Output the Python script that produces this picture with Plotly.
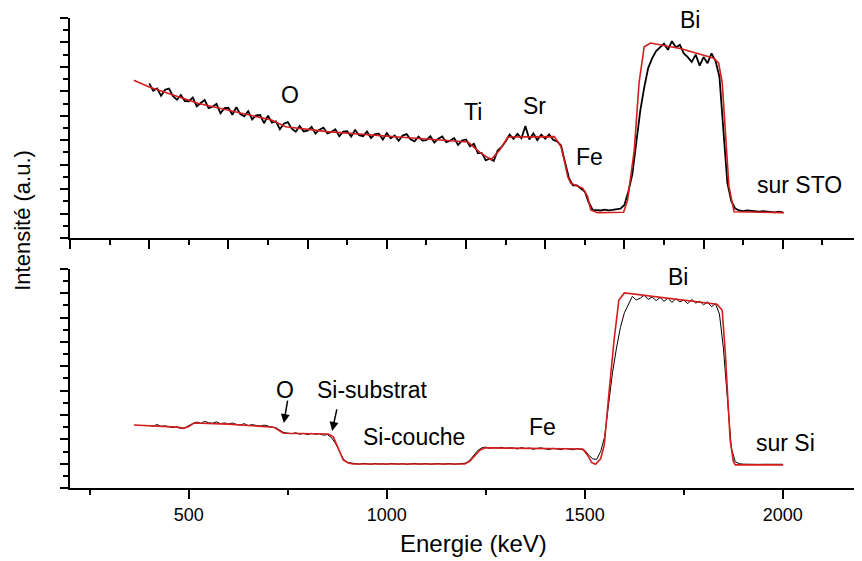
import plotly.graph_objects as go

# energy channels of the measured spectra (keV), 10 keV steps
energie = list(range(400, 2001, 10))

# measured spectrum, film on STO (top panel)
mesure_sto = [
    126.5, 120.4, 122.3, 116.3, 121.2, 122.2, 116.1, 113.1, 117, 112,
    111.9, 114.9, 107.8, 110.6, 112.9, 106.2, 107.4, 109.7, 102, 106.2,
    106.5, 100.8, 107, 101.3, 99.6, 103.8, 97, 100.3, 100.6, 93.9,
    100.1, 94.4, 95.5, 89, 93.5, 94.8, 89.4, 87, 91.6, 87.2,
    87.8, 90.9, 85.5, 88.6, 90.3, 85.5, 86.8, 89, 83.3, 87,
    87.3, 83, 88.3, 84, 83.3, 87.1, 81.8, 85, 85.3, 80.5,
    85.8, 81.5, 83.8, 79.5, 83.8, 85, 80.8, 79.1, 82.9, 79.7,
    80, 83.3, 78, 81.3, 83, 78.3, 79.5, 81.8, 76.1, 79.8,
    80.6, 75, 77, 69.5, 69.5, 63.5, 65, 63, 71.5, 74.5,
    79, 84.6, 81.1, 85.1, 81.6, 91.6, 80.6, 85.6, 80.1, 84.6,
    81.2, 84.8, 80.4, 79, 75.7, 62, 49, 43, 43, 40.5,
    38, 29, 23, 22.8, 22.5, 23.2, 22.6, 23, 23.4, 24,
    27, 38, 52, 76, 104, 123, 139, 147, 153, 156,
    159, 154, 161, 156, 158, 151, 148, 144, 150, 141,
    148, 143, 151, 145, 132, 88, 45, 30, 24, 22.5,
    22, 22.5, 22, 22, 21.5, 22, 21.5, 21.5, 21, 21.5,
    21,
]

# measured spectrum, film on Si (bottom panel)
mesure_si = [
    51.5, 50.8, 52.2, 50.6, 51.1, 50.3, 49.6, 50.4, 48.8, 49.5,
    51.5, 53, 54.2, 53.1, 54.8, 53.6, 53.2, 54.4, 52.8, 53.5,
    52.6, 53.4, 52.2, 51.8, 52.9, 51.3, 52.1, 51.6, 50.8, 51.7,
    50.6, 50.1, 49.5, 47.2, 45.5, 45.1, 44.6, 45.4, 44.2, 44.9,
    43.8, 44.9, 44.1, 44.6, 43.4, 43.9, 41.5, 37, 30, 24,
    21, 20.4, 20.1, 19.6, 20.3, 19.8, 19.5, 20.2, 19.7, 19.9,
    19.5, 20.2, 19.8, 19.6, 20.1, 19.4, 19.9, 20.3, 19.6, 19.8,
    20.1, 19.5, 19.8, 20.2, 19.6, 19.7, 20.1, 19.5, 19.9, 19.8,
    20.5, 23, 27, 31, 33, 33.6, 32.6, 33.2, 32.9, 33.5,
    32.5, 33.1, 32.8, 32.1, 33.3, 32.4, 32.9, 31.8, 32.6, 33,
    32.2, 31.6, 32.7, 32.3, 31.5, 32.6, 31.9, 31.4, 32.4, 31.8,
    31, 27, 24, 23.5, 30, 42, 68, 95, 115, 132,
    144, 151, 157.5, 154.5, 156, 158.5, 155, 157, 154, 156.5,
    153.5, 156, 152.5, 155.5, 153, 154.5, 151.5, 155, 152, 153.5,
    150.5, 153, 149, 151.5, 143, 115, 70, 33, 21.5, 20,
    19.6, 19.4, 19.5, 19.6, 19.4, 19.5, 19.5, 19.4, 19.5, 19.4,
    19.5,
]

# simulated fit, STO
sim_sto_e = [361, 400, 525, 709, 744, 850, 1029, 1205, 1235, 1263, 1285, 1306,
             1423, 1440, 1448, 1457, 1465, 1495, 1507, 1515, 1532, 1598, 1608,
             1625, 1637, 1650, 1666, 1741, 1826, 1838, 1847, 1855, 1864, 1877, 2003]
sim_sto_y = [129, 123.5, 110, 96.5, 91, 87, 82.6, 78.5, 70, 64, 72, 82.6,
             82.9, 74.7, 63.8, 50, 44.7, 40.6, 33.8, 22.9, 20.7, 21, 31,
             72, 127, 156.5, 159.5, 155, 147, 143, 127, 86, 42, 21.5, 20.7]

# simulated fit, Si
sim_si_e = [361, 399, 470, 487, 500, 513, 600, 714, 727, 739, 852, 865, 878, 890,
            903, 915, 1197, 1210, 1235, 1248, 1495, 1507, 1517, 1527, 1540, 1549,
            1561, 1574, 1586, 1600, 1834, 1847, 1855, 1867, 1875, 1880, 2001]
sim_si_y = [51.8, 51, 50, 49, 50.5, 53.4, 52.5, 50, 47.5, 45, 44.4, 42, 32, 23,
            20.5, 19.7, 19.7, 22, 31, 33, 32, 27, 21, 19.5, 24, 35,
            78, 121.7, 154.5, 160.3, 151, 146, 110, 39.5, 22, 19, 19]

FONT = "Liberation Sans, Arial, sans-serif"
ROUGE = "#d41c1c"

fig = go.Figure()
fig.add_trace(go.Scatter(x=energie, y=mesure_sto, mode="lines",
                         line=dict(color="black", width=1.8), xaxis="x2", yaxis="y2"))
fig.add_trace(go.Scatter(x=sim_sto_e, y=sim_sto_y, mode="lines",
                         line=dict(color=ROUGE, width=1.6), xaxis="x2", yaxis="y2"))
fig.add_trace(go.Scatter(x=energie, y=mesure_si, mode="lines",
                         line=dict(color="black", width=1), xaxis="x", yaxis="y"))
fig.add_trace(go.Scatter(x=sim_si_e, y=sim_si_y, mode="lines",
                         line=dict(color=ROUGE, width=1.6), xaxis="x", yaxis="y"))

axe = dict(showline=True, linewidth=2, linecolor="black", ticks="outside",
           tickwidth=2, tickcolor="black", showgrid=False, zeroline=False)
mineur = dict(ticks="outside", ticklen=5, tickwidth=2, tickcolor="black")

# page body has an 8px margin, so the figure is a bit smaller than the window
fig.update_layout(
    width=854, height=553,
    margin=dict(l=62, r=0, t=10, b=73),
    plot_bgcolor="white", paper_bgcolor="white",
    showlegend=False,
    font=dict(family=FONT, color="black"),
    xaxis=dict(axe, domain=[0, 1], anchor="y", range=[200, 2200],
               tick0=0, dtick=500, ticklen=9,
               minor=dict(mineur, dtick=250, tick0=0),
               tickfont=dict(size=18, family=FONT)),
    yaxis=dict(axe, domain=[0, 0.466], anchor="x", range=[0, 180],
               tick0=0, dtick=20, ticklen=8, showticklabels=False,
               minor=dict(mineur, dtick=10)),
    xaxis2=dict(axe, domain=[0, 1], anchor="y2", range=[200, 2200],
                tick0=0, dtick=200, ticklen=9, showticklabels=False,
                minor=dict(mineur, dtick=100, tick0=0)),
    yaxis2=dict(axe, domain=[0.532, 1], anchor="x2", range=[0, 180],
                tick0=0, dtick=20, ticklen=8, showticklabels=False,
                minor=dict(mineur, dtick=10)),
)

lab = dict(size=23, family=FONT, color="black")

# element labels, top panel
haut = [("O", 756, 117), ("Ti", 1218, 103), ("Sr", 1374, 108),
        ("Fe", 1513, 66), ("Bi", 1766, 178), ("sur STO", 2043, 43)]
for txt, xe, yv in haut:
    fig.add_annotation(x=xe, y=yv, xref="x2", yref="y2", text=txt,
                       showarrow=False, font=lab)

# element labels, bottom panel
bas = [("O", 743, 80.5), ("Si-substrat", 963, 80.5), ("Si-couche", 1069, 42),
       ("Fe", 1392, 50), ("Bi", 1735, 173.5), ("sur Si", 2006, 37)]
for txt, xe, yv in bas:
    fig.add_annotation(x=xe, y=yv, xref="x", yref="y", text=txt,
                       showarrow=False, font=lab)

# arrows
fig.add_annotation(x=740, y=53.4, xref="x", yref="y", ax=4, ay=-24, text="",
                   showarrow=True, arrowhead=2, arrowsize=1.2, arrowwidth=1.5, arrowcolor="black")
fig.add_annotation(x=862, y=46.9, xref="x", yref="y", ax=5, ay=-23, text="",
                   showarrow=True, arrowhead=2, arrowsize=1.2, arrowwidth=1.5, arrowcolor="black")

# axis titles
fig.add_annotation(x=0.51, y=-0.119, xref="paper", yref="paper", text="Energie (keV)",
                   xanchor="center", yanchor="middle",
                   showarrow=False, font=dict(size=24, family=FONT, color="black"))
fig.add_annotation(x=-0.061, y=0.57, xref="paper", yref="paper", text="Intensité (a.u.)",
                   xanchor="center", yanchor="middle",
                   textangle=-90, showarrow=False, font=dict(size=22, family=FONT, color="black"))

fig.write_html("out.html")
